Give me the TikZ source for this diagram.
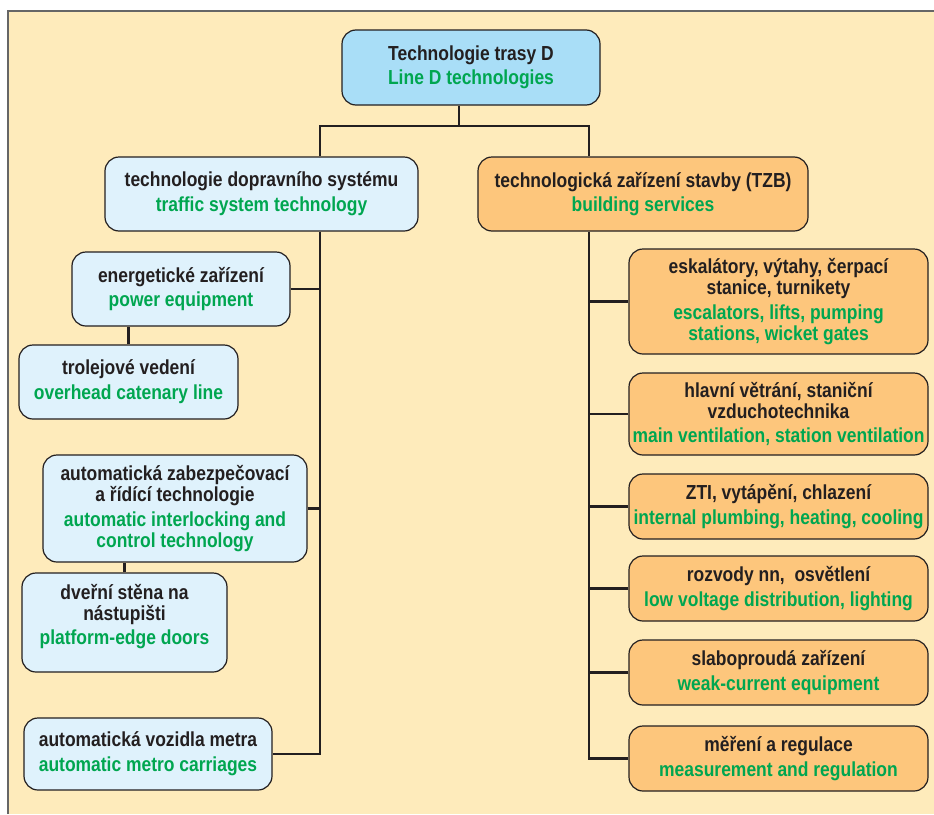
\documentclass[tikz,border=0pt]{standalone}
\usepackage{fontspec}
\setmainfont{Liberation Sans}[FakeStretch=0.86]
\usepackage{tikz}

\definecolor{bgbeige}{HTML}{FEEBBB}
\definecolor{rootblue}{HTML}{A9DEF7}
\definecolor{paleblue}{HTML}{DFF2FC}
\definecolor{tzborange}{HTML}{FDC67C}
\definecolor{engreen}{HTML}{00A650}
\definecolor{inkgray}{HTML}{231F20}
\newcommand{\eng}[1]{\textcolor{engreen}{#1}}

\tikzset{
  box/.style={draw=inkgray, line width=1.2pt, rounded corners=14pt, align=center,
    text=inkgray, font=\fontsize{20.3}{20.8}\selectfont\bfseries, inner sep=2pt},
  rootbox/.style={box, fill=rootblue},
  bluebox/.style={box, fill=paleblue},
  orangebox/.style={box, fill=tzborange},
  link/.style={draw=inkgray, line width=2.6pt}
}

\begin{document}
\begin{tikzpicture}[x=1pt, y=-1pt]
  \useasboundingbox (0,0) rectangle (934,814);
  \fill[bgbeige] (8,11) rectangle (934,814);
  \draw[gray!80!black, line width=1.5pt] (8,814) -- (8,11) -- (934,11);

  \node[rootbox, minimum width=258pt, minimum height=75pt] (root) at (471,67.5)
    {Technologie trasy D\\[3pt]\eng{Line D technologies}};
  \node[bluebox, minimum width=313pt, minimum height=74pt] (tds) at (261.5,194)
    {technologie dopravního systému\\[4pt]\eng{traffic system technology}};
  \node[orangebox, minimum width=330pt, minimum height=74pt] (tzb) at (643,194)
    {technologická zařízení stavby (TZB)\\[4pt]\eng{building services}};

  % left branch
  \node[bluebox, minimum width=218pt, minimum height=74pt] (energ) at (181,289)
    {energetické zařízení\\[4pt]\eng{power equipment}};
  \node[bluebox, minimum width=219pt, minimum height=74pt] (trol) at (128.5,382)
    {trolejové vedení\\[4pt]\eng{overhead catenary line}};
  \node[bluebox, minimum width=264pt, minimum height=107pt] (zab) at (175,508.5)
    {automatická zabezpečovací\\a řídící technologie\\[4pt]\eng{automatic interlocking and}\\\eng{control technology}};
  \node[bluebox, minimum width=205pt, minimum height=99pt, text depth=16pt] (dvere) at (124.5,622.5)
    {dveřní stěna na\\nástupišti\\[4pt]\eng{platform-edge doors}};
  \node[bluebox, minimum width=248pt, minimum height=72pt] (vozy) at (148,754)
    {automatická vozidla metra\\[4pt]\eng{automatic metro carriages}};

  % right branch
  \node[orangebox, minimum width=299pt, minimum height=105pt] (esk) at (778.5,301.5)
    {eskalátory, výtahy, čerpací\\stanice, turnikety\\[4pt]\eng{escalators, lifts, pumping}\\\eng{stations, wicket gates}};
  \node[orangebox, minimum width=299pt, minimum height=82pt] (vetr) at (778.5,414)
    {hlavní větrání, staniční\\vzduchotechnika\\[4pt]\eng{main ventilation, station ventilation}};
  \node[orangebox, minimum width=299pt, minimum height=65pt] (zti) at (778.5,506.5)
    {ZTI, vytápění, chlazení\\[4pt]\eng{internal plumbing, heating, cooling}};
  \node[orangebox, minimum width=299pt, minimum height=65pt] (nn) at (778.5,588.5)
    {rozvody nn,\ \ osvětlení\\[4pt]\eng{low voltage distribution, lighting}};
  \node[orangebox, minimum width=299pt, minimum height=65pt] (slab) at (778.5,672.5)
    {slaboproudá zařízení\\[4pt]\eng{weak-current equipment}};
  \node[orangebox, minimum width=299pt, minimum height=65pt] (mer) at (778.5,758.5)
    {měření a regulace\\[4pt]\eng{measurement and regulation}};

  \coordinate (split) at (459,126);
  \coordinate (lspine) at (320,126);
  \coordinate (rspine) at (589,126);

  \draw[link] (root.south -| split) -- (split);
  \draw[link] (tds.north -| lspine) -- (lspine) -- (rspine) -- (tzb.north -| rspine);

  \draw[link] (tds.south -| lspine) -- (vozy.east -| lspine) -- (vozy.east);
  \draw[link] (energ.east) -- (energ.east -| lspine);
  \draw[link] (zab.east) -- (zab.east -| lspine);
  \draw[link] (trol.north) -- (trol.north |- energ.south);
  \draw[link] (dvere.north) -- (dvere.north |- zab.south);

  \draw[link] (tzb.south -| rspine) -- (mer.west -| rspine) -- (mer.west);
  \foreach \n in {esk, vetr, zti, nn, slab}
    \draw[link] (\n.west) -- (\n.west -| rspine);
\end{tikzpicture}
\end{document}
